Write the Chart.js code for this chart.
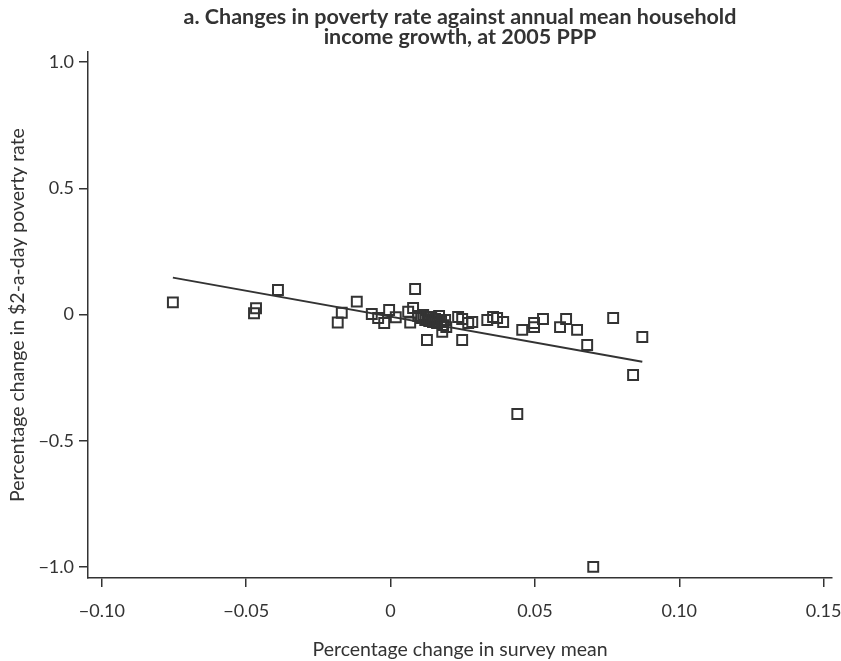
<!DOCTYPE html>
<html>
<head>
<meta charset="utf-8">
<script src="https://cdn.jsdelivr.net/npm/chart.js@4"></script>
<style>
  body { margin: 0; background: #fff; }
  #wrap { width: 841px; height: 661px; }
</style>
</head>
<body>
<div id="wrap"><canvas id="povertyChart"></canvas></div>
<script>
// Survey-mean growth (x) and poverty-rate change (y)
const meanGrowth = [
  -0.0754, -0.0466, -0.0473, -0.0390, -0.0169, -0.0183, -0.0117, -0.0065,
  -0.0043, -0.0022, -0.0005, 0.0018, 0.0061, 0.0068, 0.0078, 0.0085,
  0.0126, 0.0096, 0.0106, 0.0113, 0.0120, 0.0127, 0.0134, 0.0141,
  0.0147, 0.0154, 0.0161, 0.0168, 0.0175, 0.0182, 0.0189, 0.0193,
  0.0179, 0.0234, 0.0248, 0.0248, 0.0269, 0.0283, 0.0335, 0.0355,
  0.0369, 0.0390, 0.0439, 0.0456, 0.0497, 0.0497, 0.0528, 0.0587,
  0.0608, 0.0646, 0.0681, 0.0702, 0.0771, 0.0840, 0.0872
];
const povertyChange = [
  0.048, 0.025, 0.005, 0.097, 0.007, -0.032, 0.051, 0.002,
  -0.014, -0.034, 0.018, -0.011, 0.011, -0.032, 0.026, 0.101,
  -0.101, -0.006, -0.014, -0.002, -0.022, -0.010, -0.026, -0.010,
  -0.030, -0.018, -0.034, -0.006, -0.026, -0.042, -0.022, -0.050,
  -0.069, -0.010, -0.018, -0.101, -0.034, -0.030, -0.022, -0.010,
  -0.014, -0.030, -0.394, -0.061, -0.034, -0.050, -0.018, -0.050,
  -0.018, -0.061, -0.121, -1.000, -0.014, -0.240, -0.089
];
// Fitted line end points
const fitX = [-0.0754, 0.0872];
const fitY = [0.146, -0.187];

const xTicks = [-0.10, -0.05, 0, 0.05, 0.10, 0.15];
const xTickLabels = ['\u22120.10', '\u22120.05', '0', '0.05', '0.10', '0.15'];
const yTicks = [-1.0, -0.5, 0, 0.5, 1.0];
const yTickLabels = ['\u22121.0', '\u22120.5', '0', '0.5', '1.0'];

const ink = '#333333';
const fontFamily = 'Lato, "Open Sans", sans-serif';

const points = meanGrowth.map((x, i) => ({ x: x, y: povertyChange[i] }));
const fitLine = fitX.map((x, i) => ({ x: x, y: fitY[i] }));

function labelFor(ticks, labels) {
  return value => {
    const i = ticks.findIndex(t => Math.abs(t - value) < 1e-9);
    return i >= 0 ? labels[i] : '';
  };
}

const ctx = document.getElementById('povertyChart').getContext('2d');
new Chart(ctx, {
  type: 'scatter',
  data: {
    datasets: [
      {
        label: 'Survey',
        data: points,
        pointStyle: 'rect',
        pointRadius: 7,
        pointBorderWidth: 2,
        pointBorderColor: ink,
        pointBackgroundColor: 'rgba(0,0,0,0)',
        showLine: false
      },
      {
        label: 'Fit',
        data: fitLine,
        showLine: true,
        borderColor: ink,
        borderWidth: 2,
        pointRadius: 0,
        fill: false
      }
    ]
  },
  options: {
    responsive: true,
    maintainAspectRatio: false,
    animation: false,
    layout: { padding: { left: 6, right: 9, top: 4, bottom: 0 } },
    plugins: {
      legend: { display: false },
      tooltip: { enabled: false },
      title: {
        display: true,
        fullSize: false,
        text: ['a. Changes in poverty rate against annual mean household', 'income growth, at 2005 PPP'],
        color: ink,
        font: { family: fontFamily, size: 21.5, weight: 'bold', lineHeight: 0.93 },
        padding: { top: 3, bottom: 5 }
      }
    },
    scales: {
      x: {
        type: 'linear',
        min: -0.1048,
        max: 0.1529,
        afterBuildTicks: scale => { scale.ticks = xTicks.map(v => ({ value: v })); },
        afterFit: scale => {
          scale.height = 83;
          scale.paddingLeft = 0;
          scale.paddingRight = 0;
        },
        border: { display: true, color: ink, width: 1.5 },
        grid: { drawOnChartArea: false, drawTicks: true, tickLength: 9, color: ink, lineWidth: 1.5 },
        ticks: {
          color: ink,
          padding: 13,
          maxRotation: 0,
          font: { family: fontFamily, size: 18 },
          callback: labelFor(xTicks, xTickLabels)
        },
        title: {
          display: true,
          text: 'Percentage change in survey mean',
          color: ink,
          font: { family: fontFamily, size: 19.5 },
          padding: { top: 10, bottom: 0 }
        }
      },
      y: {
        type: 'linear',
        min: -1.044,
        max: 1.04,
        afterBuildTicks: scale => { scale.ticks = yTicks.map(v => ({ value: v })); },
        afterFit: scale => { scale.width = 82; },
        border: { display: true, color: ink, width: 1.5 },
        grid: { drawOnChartArea: false, drawTicks: true, tickLength: 9, color: ink, lineWidth: 1.5 },
        ticks: {
          color: ink,
          padding: 5,
          font: { family: fontFamily, size: 18 },
          callback: labelFor(yTicks, yTickLabels)
        },
        title: {
          display: true,
          text: 'Percentage change in $2-a-day poverty rate',
          color: ink,
          font: { family: fontFamily, size: 19.5 },
          padding: { top: 0, bottom: 4 }
        }
      }
    }
  }
});
</script>
</body>
</html>
